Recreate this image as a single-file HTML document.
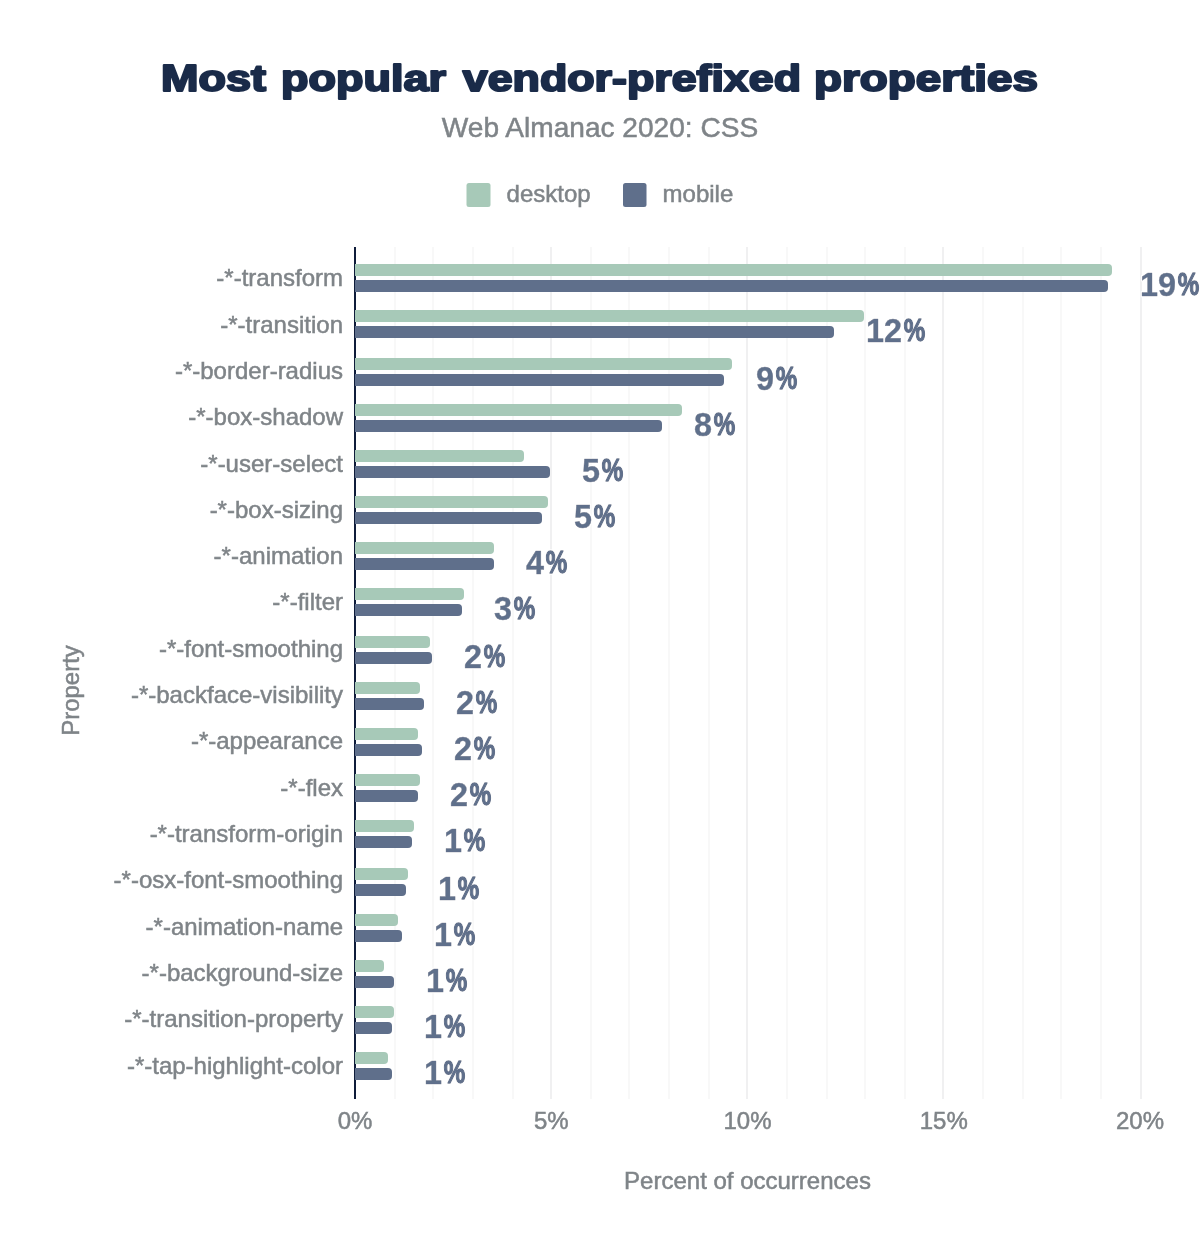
<!DOCTYPE html>
<html lang="en"><head><meta charset="utf-8"><title>Most popular vendor-prefixed properties</title>
<style>
html,body{margin:0;padding:0;background:#fff}
svg{display:block}
text{font-family:"Liberation Sans",Arial,sans-serif}
.lbl{font-size:24px;fill:#7f8488;stroke:#7f8488;stroke-width:0.5px}
.val{font-size:34px;font-weight:bold;fill:#5f6f8b;stroke:#5f6f8b;stroke-width:0.5px;stroke-linejoin:round;filter:url(#halo)}
.pc{font-size:31px;stroke-width:1.3px}
</style></head><body>
<svg width="1200" height="1254" viewBox="0 0 1200 1254">
<defs><filter id="halo" x="-10%" y="-10%" width="120%" height="120%"><feMorphology in="SourceAlpha" operator="dilate" radius="1.2" result="d"/><feFlood flood-color="#fff" result="f"/><feComposite in="f" in2="d" operator="in" result="h"/><feMerge><feMergeNode in="h"/><feMergeNode in="SourceGraphic"/></feMerge></filter></defs>
<rect width="1200" height="1254" fill="#fff"/>

<text y="91.3" font-size="37.7" font-weight="bold" fill="#1a2b49" stroke="#1a2b49" stroke-width="2.1" stroke-linejoin="round"><tspan x="161.04" textLength="104.97" lengthAdjust="spacingAndGlyphs">Most</tspan> <tspan x="281.03" textLength="164.97" lengthAdjust="spacingAndGlyphs">popular</tspan> <tspan x="462.79" textLength="338.19" lengthAdjust="spacingAndGlyphs">vendor-prefixed</tspan> <tspan x="814.01" textLength="223.98" lengthAdjust="spacingAndGlyphs">properties</tspan></text>
<text x="600" y="137" text-anchor="middle" font-size="28.1" fill="#7f8488" stroke="#7f8488" stroke-width="0.5">Web Almanac 2020: CSS</text>
<rect x="466.5" y="183" width="24" height="24" rx="2.5" fill="#a7c9b8"/>
<text class="lbl" x="506.6" y="201.5">desktop</text>
<rect x="623" y="183" width="23.5" height="24" rx="2.5" fill="#5f6f8b"/>
<text class="lbl" x="662.6" y="201.5">mobile</text>
<rect x="394" y="247" width="2" height="852" fill="#f8f8f8"/>
<rect x="432" y="247" width="2" height="852" fill="#f8f8f8"/>
<rect x="472" y="247" width="2" height="852" fill="#f8f8f8"/>
<rect x="512" y="247" width="2" height="852" fill="#f8f8f8"/>
<rect x="550" y="247" width="2" height="852" fill="#f0f0f1"/>
<rect x="590" y="247" width="2" height="852" fill="#f8f8f8"/>
<rect x="628" y="247" width="2" height="852" fill="#f8f8f8"/>
<rect x="668" y="247" width="2" height="852" fill="#f8f8f8"/>
<rect x="708" y="247" width="2" height="852" fill="#f8f8f8"/>
<rect x="746" y="247" width="2" height="852" fill="#f0f0f1"/>
<rect x="786" y="247" width="2" height="852" fill="#f8f8f8"/>
<rect x="826" y="247" width="2" height="852" fill="#f8f8f8"/>
<rect x="864" y="247" width="2" height="852" fill="#f8f8f8"/>
<rect x="904" y="247" width="2" height="852" fill="#f8f8f8"/>
<rect x="942" y="247" width="2" height="852" fill="#f0f0f1"/>
<rect x="982" y="247" width="2" height="852" fill="#f8f8f8"/>
<rect x="1022" y="247" width="2" height="852" fill="#f8f8f8"/>
<rect x="1060" y="247" width="2" height="852" fill="#f8f8f8"/>
<rect x="1100" y="247" width="2" height="852" fill="#f8f8f8"/>
<rect x="1140" y="247" width="2" height="852" fill="#f0f0f1"/>
<rect x="354" y="247" width="2" height="852" fill="#0f1c3a"/>
<path d="M355,264 H1108 a4,4 0 0 1 4,4 V272 a4,4 0 0 1 -4,4 H355 Z" fill="#a7c9b8"/>
<path d="M355,280 H1104 a4,4 0 0 1 4,4 V288 a4,4 0 0 1 -4,4 H355 Z" fill="#5f6f8b"/>
<path d="M355,310 H860 a4,4 0 0 1 4,4 V318 a4,4 0 0 1 -4,4 H355 Z" fill="#a7c9b8"/>
<path d="M355,326 H830 a4,4 0 0 1 4,4 V334 a4,4 0 0 1 -4,4 H355 Z" fill="#5f6f8b"/>
<path d="M355,358 H728 a4,4 0 0 1 4,4 V366 a4,4 0 0 1 -4,4 H355 Z" fill="#a7c9b8"/>
<path d="M355,374 H720 a4,4 0 0 1 4,4 V382 a4,4 0 0 1 -4,4 H355 Z" fill="#5f6f8b"/>
<path d="M355,404 H678 a4,4 0 0 1 4,4 V412 a4,4 0 0 1 -4,4 H355 Z" fill="#a7c9b8"/>
<path d="M355,420 H658 a4,4 0 0 1 4,4 V428 a4,4 0 0 1 -4,4 H355 Z" fill="#5f6f8b"/>
<path d="M355,450 H520 a4,4 0 0 1 4,4 V458 a4,4 0 0 1 -4,4 H355 Z" fill="#a7c9b8"/>
<path d="M355,466 H546 a4,4 0 0 1 4,4 V474 a4,4 0 0 1 -4,4 H355 Z" fill="#5f6f8b"/>
<path d="M355,496 H544 a4,4 0 0 1 4,4 V504 a4,4 0 0 1 -4,4 H355 Z" fill="#a7c9b8"/>
<path d="M355,512 H538 a4,4 0 0 1 4,4 V520 a4,4 0 0 1 -4,4 H355 Z" fill="#5f6f8b"/>
<path d="M355,542 H490 a4,4 0 0 1 4,4 V550 a4,4 0 0 1 -4,4 H355 Z" fill="#a7c9b8"/>
<path d="M355,558 H490 a4,4 0 0 1 4,4 V566 a4,4 0 0 1 -4,4 H355 Z" fill="#5f6f8b"/>
<path d="M355,588 H460 a4,4 0 0 1 4,4 V596 a4,4 0 0 1 -4,4 H355 Z" fill="#a7c9b8"/>
<path d="M355,604 H458 a4,4 0 0 1 4,4 V612 a4,4 0 0 1 -4,4 H355 Z" fill="#5f6f8b"/>
<path d="M355,636 H426 a4,4 0 0 1 4,4 V644 a4,4 0 0 1 -4,4 H355 Z" fill="#a7c9b8"/>
<path d="M355,652 H428 a4,4 0 0 1 4,4 V660 a4,4 0 0 1 -4,4 H355 Z" fill="#5f6f8b"/>
<path d="M355,682 H416 a4,4 0 0 1 4,4 V690 a4,4 0 0 1 -4,4 H355 Z" fill="#a7c9b8"/>
<path d="M355,698 H420 a4,4 0 0 1 4,4 V706 a4,4 0 0 1 -4,4 H355 Z" fill="#5f6f8b"/>
<path d="M355,728 H414 a4,4 0 0 1 4,4 V736 a4,4 0 0 1 -4,4 H355 Z" fill="#a7c9b8"/>
<path d="M355,744 H418 a4,4 0 0 1 4,4 V752 a4,4 0 0 1 -4,4 H355 Z" fill="#5f6f8b"/>
<path d="M355,774 H416 a4,4 0 0 1 4,4 V782 a4,4 0 0 1 -4,4 H355 Z" fill="#a7c9b8"/>
<path d="M355,790 H414 a4,4 0 0 1 4,4 V798 a4,4 0 0 1 -4,4 H355 Z" fill="#5f6f8b"/>
<path d="M355,820 H410 a4,4 0 0 1 4,4 V828 a4,4 0 0 1 -4,4 H355 Z" fill="#a7c9b8"/>
<path d="M355,836 H408 a4,4 0 0 1 4,4 V844 a4,4 0 0 1 -4,4 H355 Z" fill="#5f6f8b"/>
<path d="M355,868 H404 a4,4 0 0 1 4,4 V876 a4,4 0 0 1 -4,4 H355 Z" fill="#a7c9b8"/>
<path d="M355,884 H402 a4,4 0 0 1 4,4 V892 a4,4 0 0 1 -4,4 H355 Z" fill="#5f6f8b"/>
<path d="M355,914 H394 a4,4 0 0 1 4,4 V922 a4,4 0 0 1 -4,4 H355 Z" fill="#a7c9b8"/>
<path d="M355,930 H398 a4,4 0 0 1 4,4 V938 a4,4 0 0 1 -4,4 H355 Z" fill="#5f6f8b"/>
<path d="M355,960 H380 a4,4 0 0 1 4,4 V968 a4,4 0 0 1 -4,4 H355 Z" fill="#a7c9b8"/>
<path d="M355,976 H390 a4,4 0 0 1 4,4 V984 a4,4 0 0 1 -4,4 H355 Z" fill="#5f6f8b"/>
<path d="M355,1006 H390 a4,4 0 0 1 4,4 V1014 a4,4 0 0 1 -4,4 H355 Z" fill="#a7c9b8"/>
<path d="M355,1022 H388 a4,4 0 0 1 4,4 V1030 a4,4 0 0 1 -4,4 H355 Z" fill="#5f6f8b"/>
<path d="M355,1052 H384 a4,4 0 0 1 4,4 V1060 a4,4 0 0 1 -4,4 H355 Z" fill="#a7c9b8"/>
<path d="M355,1068 H388 a4,4 0 0 1 4,4 V1076 a4,4 0 0 1 -4,4 H355 Z" fill="#5f6f8b"/>
<text class="lbl" x="343" y="286.1" text-anchor="end">-*-transform</text>
<text class="val" y="296.2"><tspan x="1140.0" textLength="36.0" lengthAdjust="spacingAndGlyphs">19</tspan><tspan class="pc" x="1177.7" dy="-0.8" textLength="21.5" lengthAdjust="spacingAndGlyphs">%</tspan></text>
<text class="lbl" x="343" y="332.5" text-anchor="end">-*-transition</text>
<text class="val" y="342.2"><tspan x="866.0" textLength="36.0" lengthAdjust="spacingAndGlyphs">12</tspan><tspan class="pc" x="903.7" dy="-0.8" textLength="21.5" lengthAdjust="spacingAndGlyphs">%</tspan></text>
<text class="lbl" x="343" y="378.8" text-anchor="end">-*-border-radius</text>
<text class="val" y="390.2"><tspan x="756.0" textLength="18.0" lengthAdjust="spacingAndGlyphs">9</tspan><tspan class="pc" x="775.7" dy="-0.8" textLength="21.5" lengthAdjust="spacingAndGlyphs">%</tspan></text>
<text class="lbl" x="343" y="425.1" text-anchor="end">-*-box-shadow</text>
<text class="val" y="436.2"><tspan x="694.0" textLength="18.0" lengthAdjust="spacingAndGlyphs">8</tspan><tspan class="pc" x="713.7" dy="-0.8" textLength="21.5" lengthAdjust="spacingAndGlyphs">%</tspan></text>
<text class="lbl" x="343" y="471.5" text-anchor="end">-*-user-select</text>
<text class="val" y="482.2"><tspan x="582.0" textLength="18.0" lengthAdjust="spacingAndGlyphs">5</tspan><tspan class="pc" x="601.7" dy="-0.8" textLength="21.5" lengthAdjust="spacingAndGlyphs">%</tspan></text>
<text class="lbl" x="343" y="517.8" text-anchor="end">-*-box-sizing</text>
<text class="val" y="528.2"><tspan x="574.0" textLength="18.0" lengthAdjust="spacingAndGlyphs">5</tspan><tspan class="pc" x="593.7" dy="-0.8" textLength="21.5" lengthAdjust="spacingAndGlyphs">%</tspan></text>
<text class="lbl" x="343" y="564.1" text-anchor="end">-*-animation</text>
<text class="val" y="574.2"><tspan x="526.0" textLength="18.0" lengthAdjust="spacingAndGlyphs">4</tspan><tspan class="pc" x="545.7" dy="-0.8" textLength="21.5" lengthAdjust="spacingAndGlyphs">%</tspan></text>
<text class="lbl" x="343" y="610.4" text-anchor="end">-*-filter</text>
<text class="val" y="620.2"><tspan x="494.0" textLength="18.0" lengthAdjust="spacingAndGlyphs">3</tspan><tspan class="pc" x="513.7" dy="-0.8" textLength="21.5" lengthAdjust="spacingAndGlyphs">%</tspan></text>
<text class="lbl" x="343" y="656.8" text-anchor="end">-*-font-smoothing</text>
<text class="val" y="668.2"><tspan x="464.0" textLength="18.0" lengthAdjust="spacingAndGlyphs">2</tspan><tspan class="pc" x="483.7" dy="-0.8" textLength="21.5" lengthAdjust="spacingAndGlyphs">%</tspan></text>
<text class="lbl" x="343" y="703.1" text-anchor="end">-*-backface-visibility</text>
<text class="val" y="714.2"><tspan x="456.0" textLength="18.0" lengthAdjust="spacingAndGlyphs">2</tspan><tspan class="pc" x="475.7" dy="-0.8" textLength="21.5" lengthAdjust="spacingAndGlyphs">%</tspan></text>
<text class="lbl" x="343" y="749.4" text-anchor="end">-*-appearance</text>
<text class="val" y="760.2"><tspan x="454.0" textLength="18.0" lengthAdjust="spacingAndGlyphs">2</tspan><tspan class="pc" x="473.7" dy="-0.8" textLength="21.5" lengthAdjust="spacingAndGlyphs">%</tspan></text>
<text class="lbl" x="343" y="795.7" text-anchor="end">-*-flex</text>
<text class="val" y="806.2"><tspan x="450.0" textLength="18.0" lengthAdjust="spacingAndGlyphs">2</tspan><tspan class="pc" x="469.7" dy="-0.8" textLength="21.5" lengthAdjust="spacingAndGlyphs">%</tspan></text>
<text class="lbl" x="343" y="842.1" text-anchor="end">-*-transform-origin</text>
<text class="val" y="852.2"><tspan x="444.0" textLength="18.0" lengthAdjust="spacingAndGlyphs">1</tspan><tspan class="pc" x="463.7" dy="-0.8" textLength="21.5" lengthAdjust="spacingAndGlyphs">%</tspan></text>
<text class="lbl" x="343" y="888.4" text-anchor="end">-*-osx-font-smoothing</text>
<text class="val" y="900.2"><tspan x="438.0" textLength="18.0" lengthAdjust="spacingAndGlyphs">1</tspan><tspan class="pc" x="457.7" dy="-0.8" textLength="21.5" lengthAdjust="spacingAndGlyphs">%</tspan></text>
<text class="lbl" x="343" y="934.7" text-anchor="end">-*-animation-name</text>
<text class="val" y="946.2"><tspan x="434.0" textLength="18.0" lengthAdjust="spacingAndGlyphs">1</tspan><tspan class="pc" x="453.7" dy="-0.8" textLength="21.5" lengthAdjust="spacingAndGlyphs">%</tspan></text>
<text class="lbl" x="343" y="981.1" text-anchor="end">-*-background-size</text>
<text class="val" y="992.2"><tspan x="426.0" textLength="18.0" lengthAdjust="spacingAndGlyphs">1</tspan><tspan class="pc" x="445.7" dy="-0.8" textLength="21.5" lengthAdjust="spacingAndGlyphs">%</tspan></text>
<text class="lbl" x="343" y="1027.4" text-anchor="end">-*-transition-property</text>
<text class="val" y="1038.2"><tspan x="424.0" textLength="18.0" lengthAdjust="spacingAndGlyphs">1</tspan><tspan class="pc" x="443.7" dy="-0.8" textLength="21.5" lengthAdjust="spacingAndGlyphs">%</tspan></text>
<text class="lbl" x="343" y="1073.7" text-anchor="end">-*-tap-highlight-color</text>
<text class="val" y="1084.2"><tspan x="424.0" textLength="18.0" lengthAdjust="spacingAndGlyphs">1</tspan><tspan class="pc" x="443.7" dy="-0.8" textLength="21.5" lengthAdjust="spacingAndGlyphs">%</tspan></text>
<text class="lbl" x="355.00" y="1128.9" text-anchor="middle">0%</text>
<text class="lbl" x="551.25" y="1128.9" text-anchor="middle">5%</text>
<text class="lbl" x="747.50" y="1128.9" text-anchor="middle">10%</text>
<text class="lbl" x="943.75" y="1128.9" text-anchor="middle">15%</text>
<text class="lbl" x="1140.00" y="1128.9" text-anchor="middle">20%</text>
<text class="lbl" x="747.5" y="1188.8" text-anchor="middle">Percent of occurrences</text>
<text class="lbl" transform="translate(79,690.5) rotate(-90)" text-anchor="middle">Property</text>
</svg></body></html>
